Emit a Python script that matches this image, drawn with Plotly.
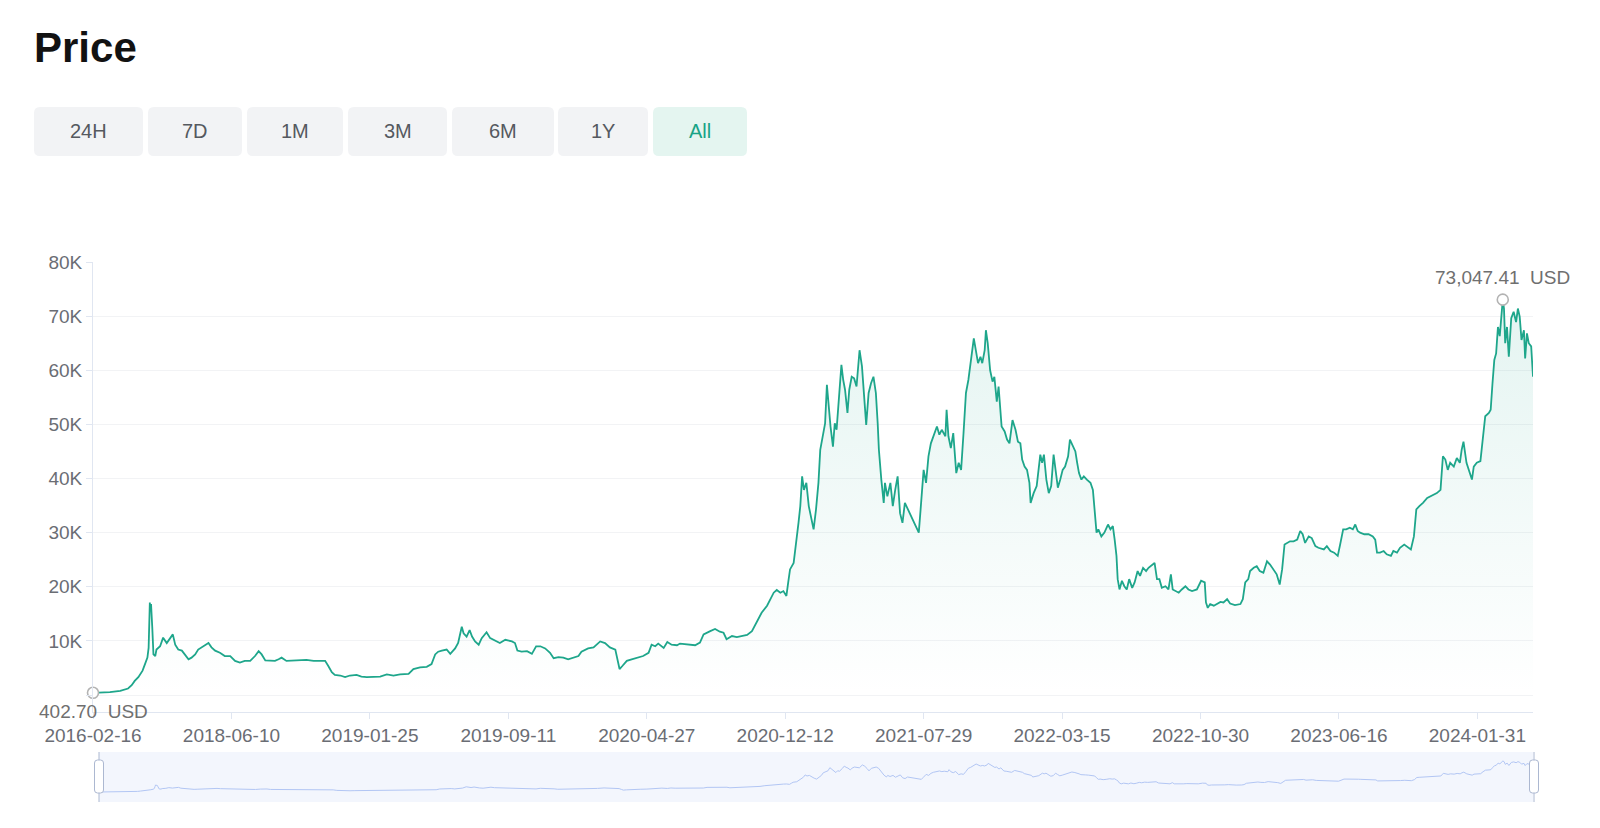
import plotly.graph_objects as go

# ---------------- data (sample index along the category axis, price in USD) ----------------
idx = [0, 12, 28, 45, 58, 64, 69, 75, 78, 82, 86, 90, 92, 93, 94, 95, 96, 98, 99, 100,
       103, 105, 111, 116, 122, 127, 132, 136, 141, 147, 152, 158, 163, 169, 174, 183, 191, 196, 202, 210,
       218, 227, 235, 243, 251, 260, 268, 274, 279, 285, 293, 301, 307, 312, 320, 331, 342, 353, 365, 376,
       384, 389, 395, 400, 409, 417, 425, 436, 444, 453, 464, 475,
       486, 497, 508, 522, 530, 541, 552, 560, 566, 571, 577, 585, 591, 599, 604, 610, 613, 618, 623, 627,
       632, 638, 643, 651, 657, 665, 673, 682, 693, 698, 702, 709, 718, 726, 733, 740, 748, 756, 762, 770,
       778, 786, 795, 803, 808, 819, 828, 839, 847, 855, 864, 868, 871, 876, 883, 891, 899, 910, 919, 924,
       930, 935, 944, 950, 957, 966,
       971, 982, 996, 1004, 1010, 1021, 1029, 1037, 1043, 1048, 1057, 1065, 1073, 1082, 1090, 1098, 1106, 1115, 1120, 1126,
       1131, 1137, 1142, 1147, 1150, 1153, 1159, 1162, 1167, 1170, 1173, 1176, 1180, 1184, 1188, 1192, 1196, 1200, 1203, 1207,
       1211, 1214, 1217, 1220, 1224, 1227, 1230, 1235, 1238, 1241, 1244, 1248, 1251, 1255, 1259, 1263, 1268, 1272, 1276, 1279,
       1283, 1287, 1291, 1295, 1298, 1300, 1304, 1308, 1310, 1314, 1319, 1323, 1327, 1331, 1335, 1339, 1343, 1348, 1352, 1357,
       1362, 1366, 1369, 1374, 1378, 1382, 1386, 1390, 1396, 1400, 1404, 1410, 1412, 1415, 1419, 1423, 1428, 1432, 1436, 1440,
       1444, 1448, 1452, 1457,
       1464, 1468, 1471, 1475, 1477, 1480, 1484, 1488, 1491, 1495, 1498, 1501, 1503, 1508, 1512, 1516, 1521, 1526, 1530, 1534,
       1537, 1541, 1545, 1549, 1551, 1556, 1561, 1567, 1570, 1573, 1577, 1581, 1585, 1589, 1592, 1596, 1600, 1604, 1608, 1613,
       1616, 1621, 1625, 1628, 1631, 1635, 1639, 1644, 1650, 1654, 1657, 1660, 1663, 1668, 1673, 1679, 1683, 1687, 1690, 1693,
       1695, 1698, 1702, 1706, 1710, 1714, 1719, 1723, 1728, 1732, 1737, 1742, 1746, 1752, 1756, 1760, 1764, 1768, 1774, 1779,
       1783, 1786, 1790, 1796, 1801, 1807, 1812, 1818, 1826, 1833, 1839, 1841, 1844, 1848, 1854, 1859, 1865, 1870, 1876, 1881,
       1889, 1898, 1902, 1906, 1911, 1914, 1920, 1925, 1930,
       1936, 1942, 1947, 1953, 1958, 1963, 1967, 1971, 1975, 1980, 1986, 1992, 1997, 2001, 2005, 2011, 2016, 2022, 2027, 2036,
       2041, 2047, 2053, 2059, 2063, 2068, 2073, 2079, 2084, 2088, 2092, 2096, 2103, 2110, 2117, 2121, 2124, 2129, 2135, 2140,
       2147, 2151, 2157, 2162, 2169, 2173, 2180, 2185, 2189, 2194, 2200, 2207, 2212, 2218, 2223, 2229, 2233, 2237, 2241, 2245,
       2251, 2256, 2261, 2264, 2267, 2272, 2276, 2281, 2284, 2289, 2295, 2299, 2303, 2309, 2312, 2315, 2318, 2321, 2324, 2327,
       2332, 2334, 2336, 2339, 2342, 2346, 2350, 2354, 2357, 2360, 2363, 2367, 2369, 2372, 2375, 2379, 2382]

price = [402.70, 420, 540, 780, 1200, 1800, 2600, 3300, 3900, 4500, 5700, 6900, 8700, 13000, 17100, 15500, 16800, 12600, 9500, 7500,
         7200, 8400, 9000, 10600, 9600, 10500, 11200, 9300, 8400, 8200, 7500, 6600, 6900, 7500, 8400, 9000, 9600, 8800, 8200, 7800,
         7200, 7200, 6300, 6000, 6300, 6300, 7200, 8100, 7500, 6400, 6300, 6300, 6600, 6900, 6300, 6400, 6400, 6500, 6300, 6300,
         6300, 5400, 4200, 3700, 3600, 3300, 3600, 3700, 3400, 3300, 3300, 3400,
         3800, 3600, 3800, 3900, 4800, 5100, 5200, 5700, 7500, 8000, 8200, 8400, 7600, 8600, 9600, 12600, 11400, 10800, 12000, 10800,
         9900, 9300, 10500, 11600, 10500, 10000, 9600, 10200, 9900, 9600, 8200, 8000, 8100, 7600, 9000, 9000, 8600, 7800, 6800, 7000,
         6900, 6600, 6900, 7200, 8000, 8600, 8800, 9900, 9600, 8800, 8400, 6300, 4800, 5400, 6300, 6600, 6800, 7200, 7800, 9300,
         9000, 9500, 8700, 9800, 9300, 9200,
         9500, 9400, 9200, 9700, 11200, 11800, 12200, 11700, 11500, 10300, 10900, 10700, 10900, 11100, 11800, 13500, 15200, 16500, 17700, 18900,
         19400, 18900, 19200, 18300, 20800, 23200, 24400, 26900, 31800, 34900, 40400, 37900, 39200, 34900, 32700, 30600, 34300, 39200, 45300, 48100,
         50200, 57300, 53300, 49600, 45900, 50200, 49000, 55800, 61000, 58200, 56400, 52100, 56400, 58800, 58500, 57000, 63700, 60700, 55100, 49900,
         55800, 57600, 58800, 55800, 50200, 45300, 39800, 35500, 39200, 36700, 39200, 34900, 37900, 40400, 33600, 31800, 35500, 34300, 33600, 32400,
         31200, 30000, 34300, 41600, 39200, 44100, 46500, 47800, 49600, 48100, 49000, 47800, 52700, 47800, 45600, 48400, 41000, 42900, 41600, 48400,
         55800, 58200, 61900, 65900,
         61300, 62500, 61300, 63700, 67400, 65000, 60000, 57900, 58800, 54200, 57000, 53300, 49600, 48700, 47200, 46500, 50800, 49000, 46800, 46500,
         43500, 42200, 41600, 39200, 35500, 37300, 38600, 44400, 42900, 44400, 39800, 37300, 38600, 44400, 41600, 38300, 39800, 41600, 42200, 44100,
         47200, 45900, 45000, 42900, 41000, 39800, 40400, 39800, 39200, 37900, 33600, 30000, 30600, 29300, 30000, 31500, 30600, 31200, 28700, 25700,
         21400, 19500, 21100, 20100, 19500, 21400, 19800, 20800, 22900, 22000, 23500, 22900, 23500, 24100, 24400, 21400, 21400, 19800, 20100, 19500,
         22300, 19500, 19200, 18900, 19500, 20100, 19500, 19200, 19500, 21100, 20800, 17100, 16100, 16800, 16500, 16800, 17200, 17100, 17700, 16900,
         16600, 16800, 17700, 20800, 21400, 22900, 23500, 23800, 22900,
         22600, 24700, 24100, 23200, 22300, 20400, 23200, 27800, 28100, 28400, 28400, 28700, 30300, 29700, 28100, 29300, 29000, 27500, 27200, 26900,
         27500, 26600, 26300, 25700, 27800, 30600, 30600, 30900, 30600, 31500, 30300, 30000, 29700, 29700, 29300, 28700, 26300, 26300, 26600, 26000,
         25700, 26600, 26300, 27200, 27800, 27500, 26900, 29300, 34300, 34900, 35500, 36400, 36700, 37000, 37300, 37900, 44100, 43500, 41600, 42900,
         42200, 43800, 42900, 45300, 46800, 42900, 41600, 39800, 42200, 42900, 43200, 47800, 51500, 52100, 52700, 57600, 61900, 63100, 68000, 66300,
         73047.41, 71400, 65000, 68000, 62500, 69600, 70800, 68900, 71400, 69900, 65600, 67400, 62200, 66800, 65000, 64400, 58800]

tick_pos = [0, 229, 458, 687, 916, 1145, 1374, 1603, 1832, 2061, 2290]
tick_dates = ["2016-02-16", "2018-06-10", "2019-01-25", "2019-09-11", "2020-04-27", "2020-12-12",
              "2021-07-29", "2022-03-15", "2022-10-30", "2023-06-16", "2024-01-31"]
y_ticks = [0, 10000, 20000, 30000, 40000, 50000, 60000, 70000, 80000]
y_labels = ["", "10K", "20K", "30K", "40K", "50K", "60K", "70K", "80K"]
range_buttons = ["24H", "7D", "1M", "3M", "6M", "1Y", "All"]
active_button = "All"
title_text = "Price"

# ---------------- layout / style ----------------
W, H = 1600, 828
ML, MR, MT, MB = 93, 67, 262, 23
PW, PH = W - ML - MR, H - MT - MB
FONT = "Liberation Sans, Arial, Helvetica, sans-serif"
LINE = "#1ea68b"
GRAY_TXT = "#6a6d74"
AXIS = "#e0e6f1"
GRID = "#f2f3f5"


def px(x):
    return (x - ML) / PW


def py(y):
    return (H - MB - y) / PH


def rrect(x0, y0, x1, y1, r):
    rx, ry = r / PW, r / PH
    a, b, c, d = px(x0), py(y1), px(x1), py(y0)
    return (f"M{a+rx},{b} L{c-rx},{b} Q{c},{b} {c},{b+ry} L{c},{d-ry} Q{c},{d} {c-rx},{d} "
            f"L{a+rx},{d} Q{a},{d} {a},{d-ry} L{a},{b+ry} Q{a},{b} {a+rx},{b} Z")


MAIN_BOTTOM, MAIN_TOP = 712, 262
SL_TOP, SL_BOTTOM = 752, 802
SL_LEFT = 99

x_last = idx[-1]
i_max = max(range(len(price)), key=lambda i: price[i])
i_min = min(range(len(price)), key=lambda i: price[i])

fig = go.Figure()

fig.add_trace(go.Scatter(
    x=idx, y=price, mode="lines",
    line=dict(color=LINE, width=1.8),
    fill="tozeroy",
    fillgradient=dict(type="vertical",
                      colorscale=[[0, "rgba(31,165,140,0)"], [1, "rgba(31,165,140,0.12)"]],
                      start=0, stop=price[i_max]),
    hoverinfo="skip", showlegend=False))

fig.add_trace(go.Scatter(
    x=[idx[i_min], idx[i_max]], y=[price[i_min], price[i_max]], mode="markers",
    marker=dict(symbol="circle", size=11, color="white", line=dict(color="#b3b3b3", width=1.6)),
    cliponaxis=False, hoverinfo="skip", showlegend=False))

# data zoom slider preview
fig.add_trace(go.Scatter(
    x=idx, y=price, mode="lines", xaxis="x2", yaxis="y2",
    line=dict(color="#b2c6f4", width=1),
    hoverinfo="skip", showlegend=False))

shapes = []
annotations = []

# slider background
shapes.append(dict(type="rect", xref="x2 domain", yref="y2 domain", x0=0, x1=1, y0=0, y1=1,
                   fillcolor="#f3f6fd", line=dict(width=0), layer="below"))
# slider handles
for hx in (SL_LEFT, 1534):
    shapes.append(dict(type="line", xref="paper", yref="paper", x0=px(hx), x1=px(hx),
                       y0=py(SL_TOP), y1=py(SL_BOTTOM), line=dict(color="#acb8d1", width=1)))
    shapes.append(dict(type="path", xref="paper", yref="paper", path=rrect(hx - 4.5, 760, hx + 4.5, 793, 3),
                       fillcolor="white", line=dict(color="#acb8d1", width=1)))

# range buttons
btn_boxes = [(34, 143), (148, 242), (247, 343), (348, 447), (452, 554), (558, 648), (653, 747)]
for lab, (x0, x1) in zip(range_buttons, btn_boxes):
    act = lab == active_button
    shapes.append(dict(type="path", xref="paper", yref="paper", path=rrect(x0, 107, x1, 156, 6),
                       fillcolor="#e4f5f0" if act else "#f2f3f5", line=dict(width=0)))
    annotations.append(dict(xref="paper", yref="paper", x=px((x0 + x1) / 2), y=py(131.5),
                            text=lab, showarrow=False, xanchor="center", yanchor="middle",
                            font=dict(family=FONT, size=20, color="#17a386" if act else "#55595f")))

# title
annotations.append(dict(xref="paper", yref="paper", x=px(32), y=py(48), text=f"<b>{title_text}</b>",
                        showarrow=False, xanchor="left", yanchor="middle",
                        font=dict(family=FONT, size=42, color="#121212")))

# min / max labels
annotations.append(dict(x=idx[i_max], y=price[i_max], xref="x", yref="y",
                        text=f"{price[i_max]:,.2f}\u00a0\u00a0USD", showarrow=False,
                        yshift=22, font=dict(family=FONT, size=19, color="#6f6f6f")))
annotations.append(dict(x=idx[i_min], y=price[i_min], xref="x", yref="y",
                        text=f"{price[i_min]:,.2f}\u00a0\u00a0USD", showarrow=False,
                        yshift=-19, font=dict(family=FONT, size=19, color="#6f6f6f")))

main_dom = [py(MAIN_BOTTOM), py(MAIN_TOP)]
y_lo = -(MAIN_BOTTOM - 695) / (695 - MAIN_TOP) * 80000

fig.update_layout(
    width=W, height=H,
    margin=dict(l=ML, r=MR, t=MT, b=MB, pad=0),
    paper_bgcolor="white", plot_bgcolor="white",
    showlegend=False,
    font=dict(family=FONT, color=GRAY_TXT),
    xaxis=dict(range=[0, x_last], domain=[0, 1], anchor="y",
               tickmode="array", tickvals=tick_pos, ticktext=tick_dates,
               showline=True, linecolor=AXIS, linewidth=1,
               ticks="outside", ticklen=6, tickcolor=AXIS,
               showgrid=False, zeroline=False,
               tickfont=dict(family=FONT, size=19, color=GRAY_TXT)),
    yaxis=dict(range=[y_lo, 80000], domain=main_dom, anchor="x",
               tickmode="array", tickvals=y_ticks, ticktext=y_labels,
               showline=True, linecolor=AXIS, linewidth=1,
               ticks="outside", ticklen=6, tickcolor=AXIS,
               showgrid=True, gridcolor=GRID, gridwidth=1, zeroline=False,
               tickfont=dict(family=FONT, size=19, color=GRAY_TXT)),
    xaxis2=dict(range=[0, x_last], domain=[px(SL_LEFT), 1], anchor="y2", visible=False),
    yaxis2=dict(range=[-23000, 94000], domain=[py(SL_BOTTOM), py(SL_TOP)], anchor="x2", visible=False),
    shapes=shapes,
    annotations=annotations,
)

fig.write_html("out.html")
